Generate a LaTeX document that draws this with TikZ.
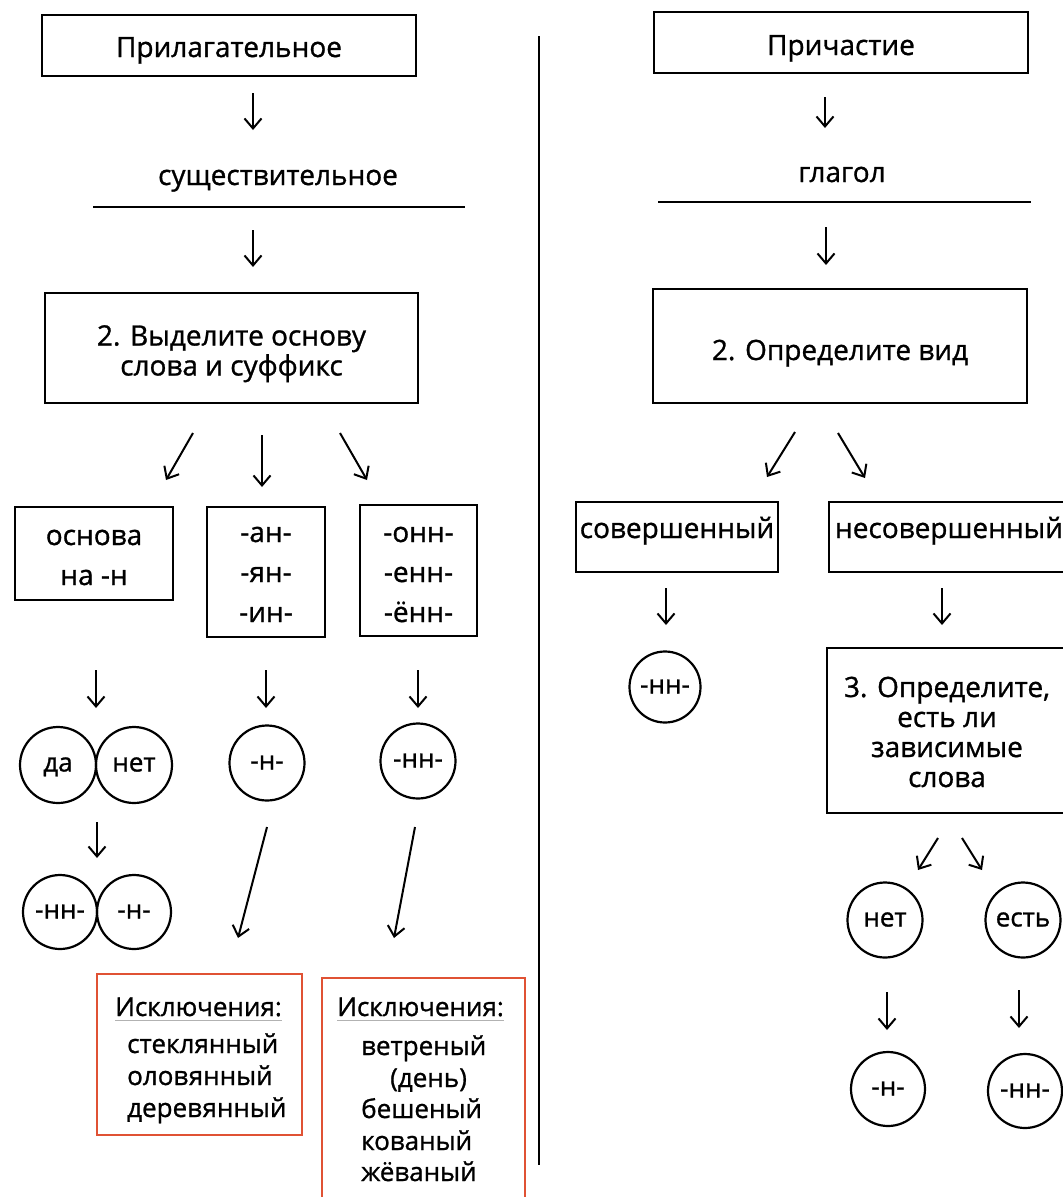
\documentclass[tikz,border=0pt]{standalone}
\usepackage{fontspec}
\setmainfont{Open Sans}[FakeBold=1.0]
\usetikzlibrary{arrows.meta}
\definecolor{exred}{RGB}{224,82,52}
\newcommand\topst[1]{\rule{0pt}{#1}}
\newcommand\botst{\rule[-8pt]{0pt}{8pt}}
\begin{document}
\begin{tikzpicture}[x=1pt,y=-1pt,
  font=\fontsize{28}{30}\selectfont,
  box/.style={draw, line width=2.2pt, inner sep=0pt, align=center},
  circ/.style={draw, circle, line width=2.2pt, inner sep=0pt, minimum size=75pt,
    text height=13pt, text depth=0pt, font=\fontsize{26}{28}\selectfont},
  arr/.style={line width=2pt, -{Straight Barb[length=10pt,width=17pt,line width=2pt]}},
  exbox/.style={draw=exred, line width=2pt, inner sep=0pt},
  lbl/.style={anchor=base, inner sep=0pt},
  exl/.style={anchor=base west, inner sep=0pt, font=\fontsize{26}{30}\selectfont},
  uline/.style={gray!60, line width=0.8pt},
  rule/.style={line width=2.2pt},
]
\fill[white] (0,0) rectangle (1063,1197);
\useasboundingbox (0,0) rectangle (1063,1197);

% ---------------- left column ----------------
\node[box, minimum width=374pt, minimum height=61pt, text height=23pt, text depth=0pt] (prl) at (229,45.5) {Прилагательное};
\draw[arr] (253,93) coordinate (a1s) -- (253,130) coordinate (a1e);
\node[lbl] (noun) at (278,185) {существительное};
\draw[rule] (93,207) coordinate (l1a) -- (465,207) coordinate (l1b);
\draw[arr] (253,230) coordinate (a2s) -- (253,267) coordinate (a2e);
\node[box, minimum width=373pt, minimum height=110pt] (b2) at (231.5,348) {\topst{33pt}2. Выделите основу\\слова и суффикс\botst};

\draw[arr] (193,433) coordinate (a3s) -- (166,480) coordinate (a3e);
\draw[arr] (262,435) coordinate (a4s) -- (262,487) coordinate (a4e);
\draw[arr] (340,433) coordinate (a5s) -- (367,480) coordinate (a5e);

\node[box, minimum width=158pt, minimum height=93pt, font=\fontsize{28}{40}\selectfont] (osn) at (94,553.5) {\topst{31pt}основа\\на -н\botst};
\node[box, minimum width=118pt, minimum height=130pt, font=\fontsize{28}{40}\selectfont] (an) at (266,572) {\topst{28pt}-ан-\\-ян-\\-ин-\botst};
\node[box, minimum width=117pt, minimum height=131pt, font=\fontsize{28}{40}\selectfont] (onn) at (418.5,570.5) {\topst{31pt}-онн-\\-енн-\\-ённ-\botst};

\draw[arr] (96,670) coordinate (a6s) -- (96,708) coordinate (a6e);
\draw[arr] (266,670) coordinate (a7s) -- (266,708) coordinate (a7e);
\draw[arr] (418,670) coordinate (a8s) -- (418,708) coordinate (a8e);

\node[circ, minimum size=76pt] (da) at (58,765) {да};
\node[circ, minimum size=76pt] (net) at (134,765) {нет};
\node[circ] (n1) at (267,763) {-н-};
\node[circ] (nn1) at (418,761) {-нн-};

\draw[arr] (97,822) coordinate (a9s) -- (97,858) coordinate (a9e);
\node[circ, minimum size=74pt] (nn2) at (60,912) {-нн-};
\node[circ, minimum size=74pt] (n2) at (134,912) {-н-};

\draw[arr] (267,827) coordinate (a10s) -- (238,938) coordinate (a10e);
\draw[arr] (415,827) coordinate (a11s) -- (394,938) coordinate (a11e);

\node[exbox, minimum width=205pt, minimum height=161pt] (ex1) at (199.5,1054.5) {};
\node[exl] (ex1h) at (115,1016) {Исключения:};
\draw[uline] ([yshift=-4pt]ex1h.base west) -- ([yshift=-4pt]ex1h.base east);
\node[exl] (ex1a) at (127,1053) {стеклянный};
\node[exl] (ex1b) at (127,1085) {оловянный};
\node[exl] (ex1c) at (127,1117) {деревянный};

\node[exbox, minimum width=203pt, minimum height=240pt, anchor=north west] (ex2) at (321,977) {};
\node[exl] (ex2h) at (337,1016) {Исключения:};
\draw[uline] ([yshift=-4pt]ex2h.base west) -- ([yshift=-4pt]ex2h.base east);
\node[exl] (ex2a) at (361,1055) {ветреный};
\node[exl] (ex2b) at (390,1087) {(день)};
\node[exl] (ex2c) at (361,1118) {бешеный};
\node[exl] (ex2d) at (361,1150) {кованый};
\node[exl] (ex2e) at (361,1181) {жёваный};

% ---------------- divider ----------------
\draw[rule] (539,36) coordinate (dv1) -- (539,1165) coordinate (dv2);

% ---------------- right column ----------------
\node[box, minimum width=374pt, minimum height=61pt, text height=25pt, text depth=0pt] (pri) at (841,42.5) {Причастие};
\draw[arr] (825,97) coordinate (b1s) -- (825,128) coordinate (b1e);
\node[lbl] (glag) at (842,182) {глагол};
\draw[rule] (658,202) coordinate (l2a) -- (1031,202) coordinate (l2b);
\draw[arr] (826,227) coordinate (b2s) -- (826,265) coordinate (b2e);
\node[box, minimum width=374pt, minimum height=114pt, text height=28pt, text depth=0pt] (vid) at (840,346) {2. Определите вид};

\draw[arr] (795,432) coordinate (b3s) -- (767,477) coordinate (b3e);
\draw[arr] (838,433) coordinate (b4s) -- (865,478) coordinate (b4e);

\node[box, minimum width=202pt, minimum height=70pt, text height=15pt, text depth=13pt] (sov) at (677,537) {совершенный};
\node[box, minimum width=240pt, minimum height=70pt, text height=15pt, text depth=13pt] (nesov) at (949,537) {несовершенный};

\draw[arr] (666,588) coordinate (b5s) -- (666,625) coordinate (b5e);
\draw[arr] (942,588) coordinate (b6s) -- (942,625) coordinate (b6e);

\node[circ, minimum size=71pt] (nn3) at (665,687) {-нн-};
\node[box, minimum width=240pt, minimum height=165pt] (b3) at (947,730.5) {\topst{31pt}3. Определите,\\есть ли\\зависимые\\слова\botst};

\draw[arr] (938,838) coordinate (b7s) -- (918,870) coordinate (b7e);
\draw[arr] (962,838) coordinate (b8s) -- (982,870) coordinate (b8e);

\node[circ] (net2) at (885,920) {нет};
\node[circ] (est) at (1023,920) {есть};

\draw[arr] (887,992) coordinate (b9s) -- (887,1030) coordinate (b9e);
\draw[arr] (1019,990) coordinate (b10s) -- (1019,1028) coordinate (b10e);

\node[circ, minimum size=74pt] (n3) at (888,1089) {-н-};
\node[circ, minimum size=74pt] (nn4) at (1025,1091) {-нн-};
\end{tikzpicture}
\end{document}
